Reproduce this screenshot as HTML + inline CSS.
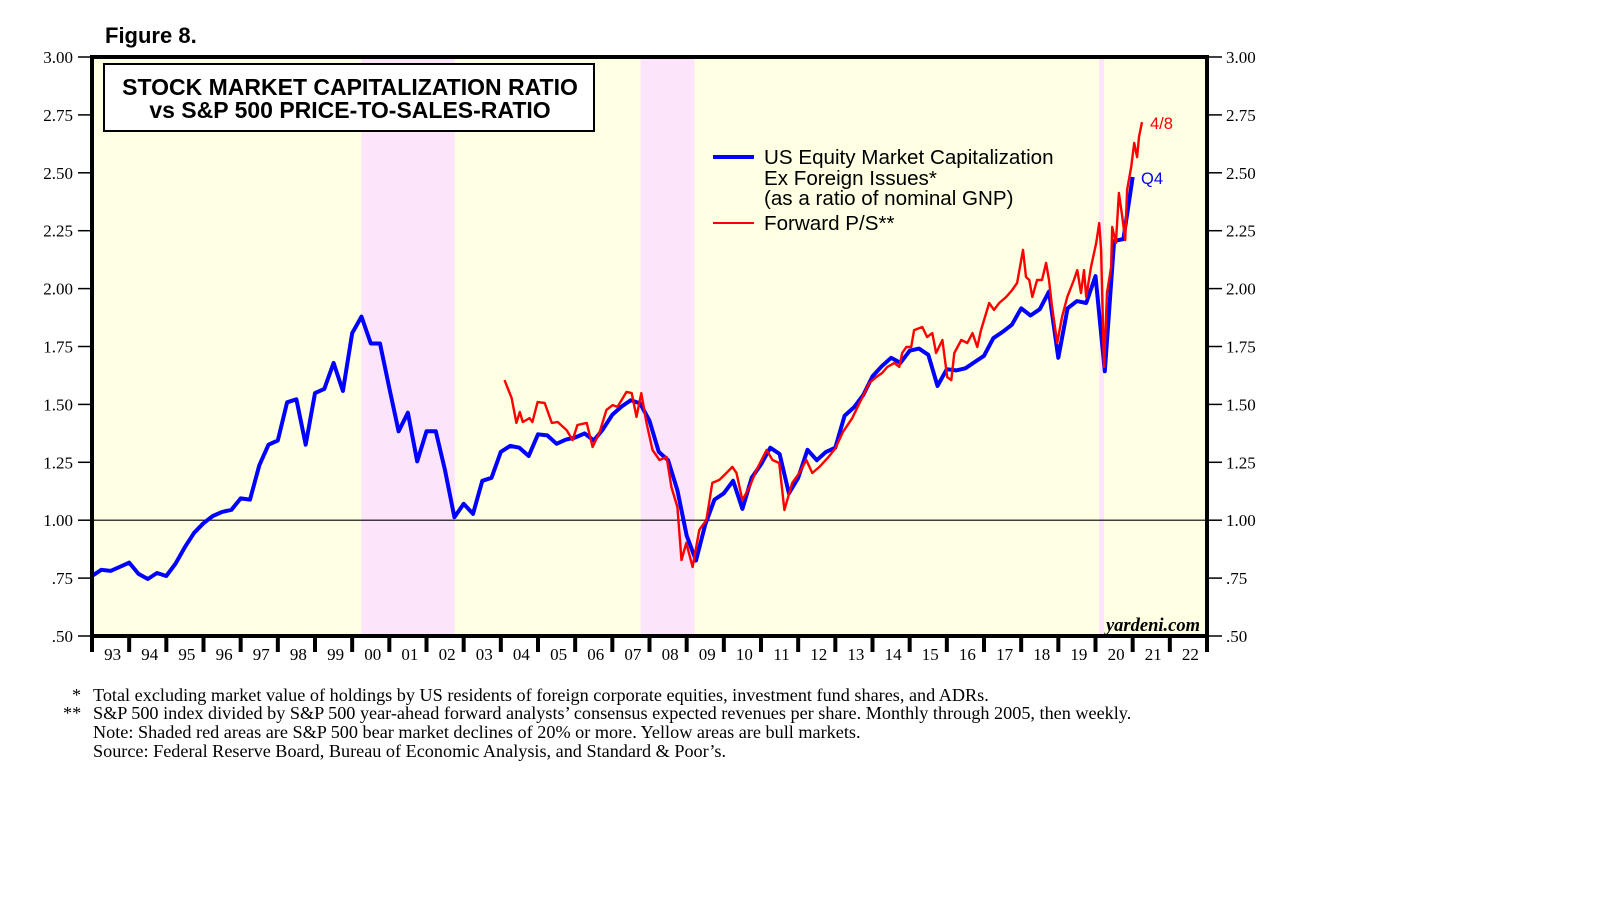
<!DOCTYPE html>
<html><head><meta charset="utf-8"><style>
body{margin:0;background:#fff;width:1610px;height:910px;overflow:hidden}
svg text{font-family:"Liberation Serif",serif}
</style></head><body>
<svg id="chart" width="1610" height="910" xmlns="http://www.w3.org/2000/svg">
<text x="105" y="43" style="font-family:'Liberation Sans',sans-serif;font-weight:bold;font-size:22px">Figure 8.</text>
<g id="plot"></g>
<g id="notes" font-size="18.2">
<text x="72" y="701">*</text><text x="93" y="701">Total excluding market value of holdings by US residents of foreign corporate equities, investment fund shares, and ADRs.</text>
<text x="63" y="719">**</text><text x="93" y="719">S&amp;P 500 index divided by S&amp;P 500 year-ahead forward analysts’ consensus expected revenues per share. Monthly through 2005, then weekly.</text>
<text x="93" y="738">Note: Shaded red areas are S&amp;P 500 bear market declines of 20% or more. Yellow areas are bull markets.</text>
<text x="93" y="757">Source: Federal Reserve Board, Bureau of Economic Analysis, and Standard &amp; Poor’s.</text>
</g>
</svg>
<script>
const yTicks=[0.5,0.75,1.0,1.25,1.5,1.75,2.0,2.25,2.5,2.75,3.0];
const yTickLabels=[".50",".75","1.00","1.25","1.50","1.75","2.00","2.25","2.50","2.75","3.00"];
const yearLabels=["93","94","95","96","97","98","99","00","01","02","03","04","05","06","07","08","09","10","11","12","13","14","15","16","17","18","19","20","21","22"];
const bearStarts=[2000.25,2007.76,2020.1];
const bearEnds=[2002.76,2009.21,2020.23];
const blueStart=1993.0;
const blueValues=[0.759,0.786,0.781,0.799,0.817,0.768,0.746,0.772,0.759,0.813,
0.884,0.946,0.987,1.018,1.036,1.045,1.094,1.089,1.237,1.326,
1.344,1.509,1.522,1.326,1.549,1.567,1.679,1.558,1.808,1.879,
1.763,1.763,1.571,1.384,1.464,1.254,1.384,1.384,1.214,1.013,
1.071,1.027,1.170,1.183,1.295,1.321,1.313,1.277,1.371,1.366,
1.330,1.348,1.357,1.375,1.344,1.393,1.455,1.491,1.518,1.504,
1.429,1.295,1.259,1.129,0.933,0.826,0.982,1.089,1.116,1.170,
1.049,1.183,1.241,1.313,1.286,1.116,1.183,1.304,1.259,1.295,
1.313,1.451,1.487,1.540,1.621,1.665,1.701,1.679,1.732,1.741,
1.714,1.580,1.652,1.647,1.656,1.683,1.710,1.786,1.813,1.844,
1.915,1.884,1.911,1.987,1.701,1.915,1.946,1.938,2.054,1.643,
2.205,2.214,2.482];
const redDates=[2004.10,2004.29,2004.42,2004.51,2004.59,2004.77,2004.85,2004.99,2005.18,2005.37,2005.53,2005.77,2005.93,2006.06,2006.31,2006.47,2006.66,2006.84,2007.01,2007.14,2007.38,2007.52,2007.65,2007.78,2007.92,2008.08,2008.27,2008.46,2008.59,2008.75,2008.86,2008.99,2009.16,2009.34,2009.53,2009.69,2009.88,2010.07,2010.23,2010.34,2010.50,2010.69,2010.88,2011.15,2011.31,2011.49,2011.63,2011.84,2012.03,2012.22,2012.38,2012.57,2012.8,2013.0,2013.2,2013.45,2013.73,2013.91,2014.10,2014.26,2014.40,2014.59,2014.72,2014.80,2014.91,2015.04,2015.12,2015.34,2015.47,2015.61,2015.71,2015.88,2016.01,2016.12,2016.20,2016.39,2016.55,2016.69,2016.82,2016.92,2017.14,2017.27,2017.41,2017.60,2017.76,2017.89,2018.05,2018.13,2018.22,2018.30,2018.43,2018.56,2018.67,2018.75,2018.83,2018.97,2019.10,2019.24,2019.42,2019.51,2019.61,2019.69,2019.75,2019.88,2020.02,2020.10,2020.15,2020.23,2020.31,2020.42,2020.45,2020.55,2020.63,2020.72,2020.80,2020.85,2020.96,2021.04,2021.12,2021.17,2021.25];
const redValues=[1.605,1.528,1.420,1.467,1.424,1.441,1.424,1.510,1.506,1.420,1.424,1.389,1.346,1.411,1.420,1.316,1.381,1.476,1.497,1.489,1.554,1.549,1.446,1.549,1.420,1.303,1.260,1.273,1.143,1.057,0.828,0.902,0.798,0.958,1.001,1.161,1.174,1.204,1.230,1.204,1.087,1.143,1.217,1.303,1.260,1.247,1.044,1.161,1.204,1.260,1.204,1.230,1.27,1.31,1.38,1.44,1.532,1.592,1.618,1.636,1.662,1.679,1.662,1.722,1.748,1.748,1.821,1.834,1.791,1.808,1.722,1.778,1.618,1.605,1.722,1.778,1.765,1.808,1.748,1.821,1.938,1.908,1.938,1.964,1.994,2.024,2.167,2.050,2.037,1.964,2.037,2.037,2.111,2.037,1.921,1.765,1.877,1.964,2.037,2.080,1.981,2.080,1.964,2.093,2.197,2.283,2.167,1.662,1.981,2.093,2.266,2.197,2.413,2.309,2.210,2.426,2.525,2.629,2.568,2.655,2.719];

const L=92,R=1207,T=57,B=636;
const X=d=>L+(d-1993)*(R-L)/30;
const Y=v=>B-(v-0.5)*(B-T)/2.5;
const NS="http://www.w3.org/2000/svg";
const g=document.getElementById('plot');
function mk(t,a,p){const e=document.createElementNS(NS,t);for(const k in a)e.setAttribute(k,a[k]);(p||g).appendChild(e);return e;}

let bg=mk('rect',{x:L,y:T,width:R-L,height:B-T,fill:'#ffffe3'});


bearStarts.forEach((s,i)=>{
  const r=mk('rect',{x:X(s),y:T,width:X(bearEnds[i])-X(s),height:B-T,fill:'#fce4fa'});
  
  
});
let one=mk('line',{x1:L,x2:R,y1:Y(1),y2:Y(1),stroke:'#000','stroke-width':1.2});



yTicks.forEach((v,i)=>{
  mk('line',{x1:L-14,x2:L,y1:Y(v),y2:Y(v),stroke:'#000','stroke-width':1.5});
  mk('line',{x1:R,x2:R+15,y1:Y(v),y2:Y(v),stroke:'#000','stroke-width':1.5});
  const a=mk('text',{x:73,y:Y(v)+6,'text-anchor':'end','font-size':17});a.textContent=yTickLabels[i];
  
  
  const b=mk('text',{x:1226,y:Y(v)+6,'font-size':17});b.textContent=yTickLabels[i];
  
  
});
for(let k=0;k<=30;k++){mk('line',{x1:X(1993+k),x2:X(1993+k),y1:B,y2:B+16,stroke:'#000','stroke-width':4});}
yearLabels.forEach((s,k)=>{
  const t=mk('text',{x:X(1993.5+k)+2,y:660,'text-anchor':'middle','font-size':17});t.textContent=s;
  
  
});

const bp=blueValues.map((v,i)=>X(blueStart+i*0.25).toFixed(1)+','+Y(v).toFixed(1)).join(' ');
let bl=mk('polyline',{points:bp,fill:'none',stroke:'#0000ff','stroke-width':4,'stroke-linejoin':'round'});


const rp=redValues.map((v,i)=>X(redDates[i]).toFixed(1)+','+Y(v).toFixed(1)).join(' ');
let rl=mk('polyline',{points:rp,fill:'none',stroke:'#ff0000','stroke-width':2.4,'stroke-linejoin':'round'});



let fr=mk('rect',{x:L,y:T,width:R-L,height:B-T,fill:'none',stroke:'#000','stroke-width':4});



let tb=mk('rect',{x:104,y:64,width:490,height:67,fill:'#fff',stroke:'#000','stroke-width':2});


[['STOCK MARKET CAPITALIZATION RATIO',95],['vs S&P 500 PRICE-TO-SALES-RATIO',118]].forEach(([s,y])=>{
  const t=mk('text',{x:350,y:y,'text-anchor':'middle','font-size':23,'font-weight':'bold',style:"font-family:'Liberation Sans',sans-serif"});t.textContent=s;
  
  
});

let l1=mk('line',{x1:713,x2:754,y1:157,y2:157,stroke:'#0000ff','stroke-width':4});


let l2=mk('line',{x1:713,x2:754,y1:223,y2:223,stroke:'#ff0000','stroke-width':2});


[['US Equity Market Capitalization',164],['Ex Foreign Issues*',185],['(as a ratio of nominal GNP)',205],['Forward P/S**',230]].forEach(([s,y])=>{
  const t=mk('text',{x:764,y:y,'font-size':20.6,style:"font-family:'Liberation Sans',sans-serif"});t.textContent=s;
  
  
});
let a1=mk('text',{x:1150,y:129,fill:'#ff0000','font-size':16.5,style:"font-family:'Liberation Sans',sans-serif"});a1.textContent='4/8';


let a2=mk('text',{x:1141,y:184,fill:'#0000ff','font-size':16.5,style:"font-family:'Liberation Sans',sans-serif"});a2.textContent='Q4';


let yd=mk('text',{x:1200,y:631,'text-anchor':'end','font-size':18.5,'font-style':'italic','font-weight':'bold'});yd.textContent='yardeni.com';


</script>
</body></html>
